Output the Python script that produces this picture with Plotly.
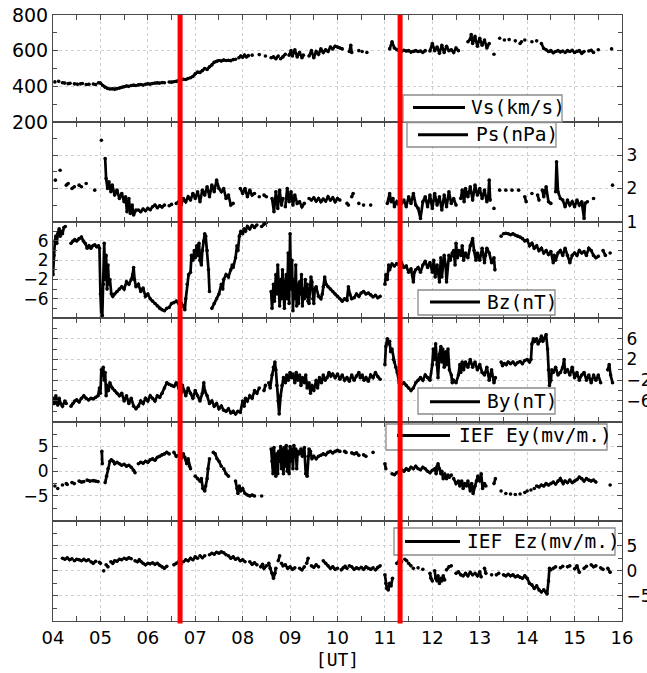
import plotly.graph_objects as go

# ---------------- data ----------------
HOURS = list(range(4, 17))
HOUR_LABELS = [f"{h:02d}" for h in HOURS]
EVENTS = [6.68, 11.32]  # red marker lines [UT hours]

# each series: (UT hour, value) points, None = data gap
VS = [
    (4.04, 425), None, (4.12, 428), None, (4.20, 420), (4.25, 418), None, (4.32, 415), (4.36, 417), None,
    (4.45, 414), (4.52, 412), None, (4.58, 414), (4.62, 416), None, (4.70, 410), (4.76, 412), None,
    (4.85, 413), (4.90, 410), None,
    (4.96, 420), (5.00, 418), (5.05, 405), (5.10, 395), (5.15, 388), (5.20, 385), (5.25, 386), (5.30, 383),
    (5.35, 387), None,
    (5.40, 390), (5.45, 395), (5.50, 398), (5.55, 402), (5.60, 400), None, (5.65, 405), (5.70, 407), (5.75, 405), None,
    (5.80, 408), (5.85, 410), (5.90, 407), None, (5.95, 412), (6.00, 414), (6.05, 412), (6.10, 416), None,
    (6.15, 418), (6.20, 420), (6.25, 418), None, (6.30, 421), (6.35, 420), None,
    (6.45, 424), (6.50, 423), (6.55, 426), (6.60, 428), (6.65, 432), (6.70, 436), (6.75, 440), (6.80, 438),
    (6.85, 444), None,
    (6.90, 448), (6.95, 455), (7.00, 470), (7.05, 480), (7.10, 478), (7.15, 488), (7.20, 500), (7.25, 495),
    (7.30, 510), (7.35, 520), (7.40, 535), (7.45, 540), (7.50, 545), (7.55, 542), (7.60, 548), (7.65, 545),
    (7.70, 546), (7.75, 544), None,
    (7.80, 550), (7.85, 552), None,
    (7.92, 560), (7.96, 570), (8.00, 563), (8.04, 575), (8.08, 565), (8.12, 572), None,
    (8.20, 575), None, (8.35, 578), None, (8.48, 570), None,
    (8.60, 560), (8.65, 565), (8.70, 555), (8.75, 570), None, (8.80, 555), (8.85, 565), (8.90, 580), None,
    (8.98, 575), (9.02, 600), (9.05, 570), (9.10, 605), (9.15, 565), (9.20, 590), (9.25, 560), (9.28, 575), None,
    (9.40, 570), (9.45, 600), (9.50, 560), (9.55, 595), (9.60, 580), (9.65, 610), (9.70, 590), (9.75, 605),
    (9.80, 595), (9.85, 620), (9.90, 610), (9.95, 625), (10.00, 620), (10.05, 615), (10.10, 610), None,
    (10.25, 595), (10.28, 630), (10.30, 590), None, (10.45, 600), None, (10.52, 595), None, (10.62, 590), None,
    (11.10, 610), (11.15, 650), (11.20, 615), (11.25, 605), (11.30, 600), (11.35, 595), (11.40, 602),
    (11.45, 598), (11.50, 600), (11.55, 592), (11.60, 596), (11.65, 600), (11.70, 595), (11.75, 598),
    (11.80, 590), (11.85, 600), None,
    (11.95, 598), (12.00, 640), (12.05, 600), (12.10, 620), (12.15, 585), (12.20, 630), (12.25, 590),
    (12.30, 625), (12.35, 600), (12.40, 605), (12.45, 590), (12.50, 615), (12.55, 600), None,
    (12.75, 650), (12.80, 665), (12.82, 690), (12.85, 640), (12.90, 680), (12.95, 625), (13.00, 670),
    (13.05, 630), (13.10, 660), (13.15, 615), (13.20, 640), None,
    (13.30, 580), None, (13.42, 670), None, (13.52, 660), None, (13.62, 662), None, (13.75, 655), None,
    (13.85, 640), (13.88, 650), None, (13.95, 660), None, (14.10, 650), None, (14.20, 655), None,
    (14.30, 640), (14.35, 612), (14.40, 605), (14.45, 595), (14.50, 600), (14.55, 588), (14.60, 595),
    (14.65, 600), (14.70, 593), (14.75, 598), None,
    (14.80, 590), (14.85, 600), (14.90, 595), (14.95, 602), (15.00, 590), (15.05, 597), (15.10, 600),
    (15.15, 585), (15.20, 595), None,
    (15.30, 598), (15.35, 602), (15.40, 590), None, (15.50, 605), None, (15.78, 610),
]

PS = [
    (4.05, 2.25), None, (4.15, 2.55), None, (4.28, 2.10), (4.32, 2.15), None, (4.40, 2.00), (4.45, 2.05), None,
    (4.55, 2.10), (4.60, 2.05), None, (4.70, 2.15), None, (4.88, 1.95), None, (5.02, 3.45), None,
    (5.10, 2.90), (5.12, 2.30), (5.15, 2.00), (5.18, 2.20), (5.22, 1.90), (5.25, 2.10), (5.30, 1.80),
    (5.35, 1.95), (5.40, 1.70), (5.45, 1.85), (5.50, 1.60), (5.53, 1.75), (5.56, 1.30), (5.60, 1.70),
    (5.63, 1.25), (5.67, 1.50), (5.70, 1.20), (5.75, 1.35), None,
    (5.80, 1.35), (5.85, 1.30), (5.90, 1.38), (5.95, 1.33), (6.00, 1.40), (6.05, 1.36), (6.10, 1.45),
    (6.15, 1.50), (6.20, 1.42), (6.25, 1.48), (6.30, 1.44), (6.35, 1.50), None,
    (6.45, 1.48), (6.50, 1.52), None,
    (6.60, 1.55), (6.65, 1.60), (6.70, 1.50), (6.75, 1.70), (6.80, 1.60), (6.85, 1.75), (6.90, 1.65),
    (6.95, 1.85), (7.00, 1.70), (7.05, 1.90), (7.10, 1.60), (7.15, 1.95), (7.20, 1.80), (7.25, 2.05),
    (7.30, 1.75), (7.35, 2.10), (7.40, 1.90), (7.45, 2.25), (7.50, 2.00), (7.55, 1.90), (7.60, 2.00),
    (7.65, 1.70), (7.70, 1.80), (7.75, 1.50), (7.80, 1.55), None,
    (7.95, 2.00), (8.00, 1.85), (8.05, 2.00), (8.10, 1.75), (8.15, 1.95), (8.20, 1.80), (8.25, 1.85), None,
    (8.35, 1.75), None, (8.45, 1.80), (8.50, 1.75), None,
    (8.62, 1.70), (8.66, 1.30), (8.70, 1.90), (8.74, 1.40), (8.78, 1.95), (8.82, 1.50), (8.85, 1.70), None,
    (8.90, 1.45), (8.94, 2.00), (8.98, 1.60), (9.02, 1.90), (9.06, 1.50), (9.10, 1.80), (9.15, 1.55),
    (9.20, 1.60), (9.25, 1.45), (9.30, 1.55), None,
    (9.40, 1.70), (9.45, 1.65), (9.50, 1.72), (9.55, 1.62), (9.60, 1.70), (9.65, 1.60), (9.70, 1.68),
    (9.75, 1.62), (9.80, 1.75), (9.85, 1.65), (9.90, 1.72), (9.95, 1.60), (10.00, 1.70), (10.05, 1.65), None,
    (10.20, 1.55), (10.23, 1.50), None, (10.30, 1.75), (10.33, 1.85), None, (10.45, 1.55), None,
    (10.55, 1.50), None, (10.70, 1.50), None,
    (11.05, 1.55), (11.10, 1.85), (11.13, 1.60), (11.17, 1.70), (11.20, 1.45), (11.25, 1.60), (11.30, 1.50),
    (11.35, 1.55), (11.40, 1.65), (11.45, 1.45), (11.50, 1.75), (11.55, 1.55), (11.60, 1.85), (11.65, 1.50),
    (11.70, 1.40), (11.75, 1.10), (11.80, 1.60), (11.85, 1.75), (11.90, 1.45), (11.95, 1.80), (12.00, 1.40),
    (12.05, 1.85), (12.10, 1.50), (12.15, 1.75), (12.20, 1.35), (12.25, 1.80), (12.30, 1.45), (12.35, 1.90),
    (12.40, 1.55), (12.45, 1.70), (12.50, 1.50), None,
    (12.60, 1.70), (12.63, 1.95), (12.67, 1.60), (12.70, 2.00), (12.75, 1.75), (12.80, 2.05), (12.85, 1.65),
    (12.90, 2.10), (12.95, 1.80), (13.00, 2.00), (13.05, 1.70), (13.10, 1.95), (13.15, 1.60), (13.18, 1.75),
    (13.20, 2.25), (13.22, 1.65), None,
    (13.30, 1.40), None, (13.42, 1.95), None, (13.55, 1.95), None, (13.68, 1.95), None, (13.82, 1.95), None,
    (13.95, 1.75), (13.98, 1.60), None, (14.10, 1.85), None, (14.22, 1.80), (14.25, 1.65), None,
    (14.32, 1.95), (14.35, 1.75), (14.40, 2.05), (14.45, 1.60), (14.50, 1.55), None,
    (14.60, 1.90), (14.62, 2.80), (14.65, 1.90), (14.70, 1.70), (14.75, 1.65), (14.80, 1.45), (14.85, 1.65),
    (14.90, 1.50), (14.95, 1.60), (15.00, 1.45), (15.05, 1.65), (15.10, 1.50), (15.15, 1.60), (15.20, 1.10),
    (15.22, 1.55), (15.27, 1.60), None,
    (15.40, 1.70), None, (15.80, 2.10),
]

BZ = [
    (4.00, -1.0), (4.02, 3.0), (4.04, 6.0), (4.06, 7.0), (4.08, 5.5), (4.10, 7.5), (4.13, 8.5), (4.15, 7.0),
    (4.18, 8.0), (4.20, 7.5), (4.23, 8.8), (4.26, 9.0), None,
    (4.38, 5.5), (4.42, 6.0), (4.46, 6.3), (4.50, 6.0), (4.55, 6.5), (4.60, 6.8), (4.64, 6.0), (4.68, 5.5),
    (4.72, 4.5), (4.76, 5.0), (4.80, 4.5), (4.84, 5.0), (4.88, 5.2), (4.92, 4.8), (4.96, 5.0), (4.98, 4.5),
    (5.00, -5.0), (5.02, -9.8), (5.04, -9.5), (5.06, -3.0), (5.08, 5.5), (5.10, -2.0), (5.12, 3.0),
    (5.14, -4.0), (5.16, 1.0), (5.18, -3.0), (5.20, -2.0), (5.23, -5.0), (5.26, -5.5), (5.30, -5.0),
    (5.35, -4.5), (5.40, -4.0), (5.45, -3.5), (5.50, -4.0), (5.55, -2.5), (5.60, -3.0), (5.65, -2.0),
    (5.68, -1.0), (5.70, 0.5), (5.72, -2.0), (5.75, -3.5), (5.80, -3.0), (5.85, -4.5), (5.90, -3.8),
    (5.95, -5.5), (6.00, -5.0), (6.05, -6.0), (6.10, -6.5), (6.15, -7.0), (6.20, -7.5), (6.25, -8.0),
    (6.30, -8.3), (6.35, -8.5), (6.40, -8.0), None,
    (6.45, -7.8), (6.50, -7.0), (6.55, -6.8), (6.60, -6.5), (6.65, -7.0), (6.70, -6.8), (6.75, -7.5),
    (6.78, -8.3), (6.80, -6.0), (6.83, -3.0), (6.86, -1.0), (6.90, -0.5), (6.92, 3.0), (6.95, 2.0),
    (6.98, 4.0), (7.00, 2.5), (7.03, 5.0), (7.05, 3.0), (7.08, 5.5), (7.10, 2.0), (7.13, 1.0), (7.15, 4.0),
    (7.18, 6.0), (7.20, 7.5), (7.22, 7.0), (7.25, 4.0), (7.28, 0.0), (7.30, -4.5), None,
    (7.35, -8.0), (7.40, -7.0), (7.45, -6.0), (7.50, -5.0), (7.55, -3.0), (7.58, -4.0), (7.60, -2.0),
    (7.65, -1.0), (7.70, -1.5), (7.75, 0.0), (7.78, 1.0), (7.80, 0.5), (7.85, 2.5), (7.88, 5.0), (7.90, 4.0),
    (7.93, 7.0), (7.96, 8.0), (8.00, 7.5), (8.03, 8.5), (8.06, 8.0), (8.10, 9.0), (8.15, 8.5), (8.20, 9.2),
    (8.25, 8.8), (8.30, 9.3), None,
    (8.40, 9.0), (8.45, 9.5), (8.50, 9.8), None,
    (8.60, -4.5), (8.62, -8.0), (8.65, -3.0), (8.67, -6.5), (8.70, -1.0), (8.72, -5.0), (8.74, 1.0),
    (8.76, -4.0), (8.78, -7.5), (8.80, -2.0), (8.82, -6.0), (8.84, 0.0), (8.86, -5.5), (8.88, -8.0),
    (8.90, -3.0), (8.92, -1.0), (8.94, -6.0), (8.96, 3.5), (8.98, -7.0), (9.00, 7.5), (9.02, -4.0),
    (9.04, 2.0), (9.06, -8.5), (9.08, -2.0), (9.10, -6.0), (9.12, 1.0), (9.14, -7.5), (9.16, -3.0),
    (9.18, -7.0), (9.20, -2.5), (9.22, -5.0), (9.24, -1.0), (9.26, -7.5), (9.28, -4.0), (9.30, -6.0),
    (9.32, -2.0), (9.34, -5.5), (9.36, -3.0), (9.38, -6.5), (9.40, -7.0), (9.42, -4.0), (9.44, -1.5),
    (9.46, -2.5), (9.48, -6.0), (9.50, -7.0), (9.52, -4.0), (9.55, -3.5), (9.60, -5.5), (9.65, -6.0),
    (9.68, -5.0), (9.70, -3.5), (9.73, -1.5), (9.76, -3.0), (9.80, -3.5), (9.85, -4.0), (9.90, -4.5),
    (9.95, -5.0), (10.00, -5.5), (10.05, -6.0), (10.10, -6.5), (10.15, -6.0), (10.20, -6.3), (10.23, -3.5),
    (10.26, -5.0), (10.30, -6.0), (10.35, -5.8), (10.40, -5.0), (10.45, -5.5), (10.50, -4.8), (10.55, -4.5),
    (10.60, -5.0), (10.65, -4.8), (10.70, -5.2), (10.75, -5.6), (10.80, -5.3), (10.85, -5.8), (10.90, -5.5),
    None,
    (11.00, -3.0), (11.02, -1.0), (11.05, -2.0), (11.08, 1.0), (11.10, 0.0), (11.15, 1.2), (11.20, 0.8),
    (11.25, 1.3), (11.30, 1.0), (11.35, 1.5), (11.40, 0.5), (11.45, 0.8), (11.50, -0.5), (11.55, 0.2),
    (11.60, -2.5), (11.62, -0.5), (11.65, 0.0), (11.70, 0.5), (11.75, -0.5), (11.80, 1.0), (11.85, 1.8),
    (11.90, 0.5), (11.95, 1.5), (12.00, -0.5), (12.03, 2.0), (12.06, -1.5), (12.10, 1.0), (12.15, -2.5),
    (12.18, 2.5), (12.20, -1.5), (12.25, 3.0), (12.28, 1.0), (12.30, -2.5), (12.35, 3.0), (12.38, 2.0),
    (12.42, 3.5), (12.45, 4.0), (12.48, 1.0), (12.50, 5.5), (12.53, 2.5), (12.56, 4.0), (12.60, 3.0),
    (12.63, 5.0), (12.66, 2.0), (12.70, 3.5), (12.75, 2.5), (12.80, 5.0), (12.85, 6.5), (12.88, 4.0),
    (12.92, 2.0), (12.95, 3.5), (13.00, 2.0), (13.05, 4.5), (13.10, 1.5), (13.12, 3.0), (13.15, 4.5),
    (13.20, 3.5), (13.25, 1.5), (13.30, 2.5), (13.32, 0.0), None,
    (13.45, 7.0), None,
    (13.50, 7.5), (13.55, 7.6), (13.60, 7.5), (13.65, 7.3), (13.70, 7.5), (13.75, 7.2), (13.80, 7.0),
    (13.85, 6.8), (13.90, 6.5), (13.95, 6.0), (14.00, 6.2), (14.05, 5.0), (14.10, 5.5), (14.15, 4.5),
    (14.20, 5.0), (14.25, 4.0), (14.30, 4.5), (14.35, 3.5), (14.40, 4.0), (14.45, 3.2), (14.50, 3.8),
    (14.55, 1.5), (14.57, 3.0), (14.60, 2.0), (14.65, 3.5), (14.70, 4.0), (14.75, 3.0), (14.80, 4.5),
    (14.85, 3.0), (14.90, 1.5), (14.95, 3.0), (15.00, 3.5), (15.05, 3.0), (15.10, 4.0), (15.15, 3.5),
    (15.20, 3.8), (15.25, 3.0), (15.30, 4.5), (15.35, 4.0), (15.40, 3.0), (15.45, 2.5), (15.50, 2.8), None,
    (15.60, 4.0), (15.65, 3.0), None, (15.75, 3.5),
]

BY = [
    (4.00, -5.5), (4.03, -6.5), (4.06, -5.0), (4.10, -6.8), (4.13, -5.5), (4.16, -6.5), (4.20, -7.0),
    (4.25, -6.0), (4.28, -6.5), None,
    (4.38, -7.0), (4.42, -6.5), (4.46, -6.0), (4.50, -5.8), (4.55, -6.2), (4.60, -5.5), (4.65, -5.0),
    (4.70, -5.5), (4.75, -5.8), (4.80, -5.5), (4.85, -5.6), (4.90, -5.3), (4.95, -5.0), (4.98, -3.5),
    (5.00, -4.5), (5.02, 0.0), (5.04, -1.0), (5.06, 0.5), (5.08, -2.0), (5.10, -0.5), (5.12, -5.0),
    (5.14, -3.0), (5.17, -4.0), (5.20, -2.5), (5.25, -3.5), (5.30, -4.0), (5.35, -4.5), (5.40, -5.0),
    (5.45, -4.5), (5.50, -6.0), (5.55, -5.0), (5.60, -6.5), (5.65, -5.5), (5.70, -7.0), (5.75, -7.5),
    (5.80, -7.0), (5.85, -6.0), (5.90, -6.5), (5.95, -5.5), (6.00, -6.0), (6.05, -5.0), (6.10, -5.5),
    (6.15, -6.0), (6.20, -5.0), (6.25, -5.3), (6.30, -4.5), (6.35, -3.5), (6.40, -2.5), (6.45, -2.8),
    (6.50, -3.0), (6.55, -3.2), (6.60, -2.5), (6.65, -3.5), (6.70, -4.5), (6.73, -3.0), (6.76, -4.0),
    (6.80, -5.0), (6.85, -3.5), (6.90, -4.5), (6.95, -5.5), (7.00, -4.0), (7.05, -5.0), (7.10, -6.0),
    (7.15, -4.5), (7.18, -2.5), (7.20, -4.0), (7.25, -5.0), (7.30, -6.5), (7.35, -6.0), (7.40, -7.0),
    (7.45, -6.5), (7.50, -7.5), (7.55, -7.0), (7.60, -7.8), (7.65, -8.0), (7.70, -7.5), (7.75, -8.3),
    (7.80, -8.0), (7.85, -8.5), (7.90, -8.0), (7.95, -8.2), (8.00, -6.0), (8.03, -7.0), (8.06, -5.5),
    (8.10, -6.0), (8.15, -5.0), (8.20, -5.5), (8.25, -4.0), (8.30, -4.5), (8.35, -3.5), None,
    (8.45, -4.0), (8.48, -3.0), None,
    (8.55, -2.5), (8.58, -3.5), (8.62, -1.0), (8.65, 0.5), (8.68, 1.5), (8.70, 0.0), (8.72, -3.0),
    (8.75, -6.0), (8.77, -8.5), (8.80, -5.0), (8.83, -3.0), (8.86, -1.5), (8.90, -2.5), (8.93, -1.0),
    (8.96, -2.0), (9.00, -0.5), (9.03, -1.5), (9.06, -0.8), (9.10, -2.5), (9.13, -0.5), (9.16, -2.0),
    (9.20, -1.0), (9.23, -3.0), (9.26, -1.5), (9.30, -2.5), (9.33, -1.0), (9.36, -3.5), (9.40, -2.5),
    (9.43, -4.5), (9.46, -3.0), (9.50, -4.0), (9.55, -2.0), (9.58, -3.5), (9.62, -1.5), (9.66, -2.5),
    (9.70, -1.0), (9.74, -2.0), (9.78, -1.5), (9.82, -0.5), (9.86, -1.2), (9.90, -0.8), (9.95, -1.5),
    (10.00, -0.8), (10.05, -1.8), (10.10, -1.0), (10.15, -2.0), (10.20, -1.5), (10.25, -2.2), (10.30, -1.0),
    (10.35, -2.0), (10.40, -1.2), (10.45, -0.5), (10.48, -1.5), (10.52, -1.0), (10.56, -2.0), (10.60, -1.5),
    (10.65, -2.2), (10.70, -1.0), (10.75, -1.5), (10.80, -0.5), (10.85, -1.3), (10.90, -1.8), None,
    (11.00, 1.0), (11.02, 4.5), (11.05, 6.0), (11.08, 5.0), (11.10, 5.5), (11.12, 3.5), (11.15, 4.0),
    (11.18, 2.0), (11.20, 1.5), (11.23, 0.5), (11.26, -0.5), (11.30, -2.5), (11.35, -2.8), (11.40, -2.5),
    (11.45, -3.0), (11.50, -3.5), (11.55, -4.0), (11.60, -3.5), (11.65, -2.5), (11.70, -2.0), (11.75, -1.5),
    (11.80, -2.0), (11.85, -1.0), (11.90, -1.5), (11.95, -2.0), (12.00, 1.0), (12.02, 4.0), (12.05, 2.0),
    (12.07, 5.0), (12.10, 1.0), (12.12, -1.5), (12.15, 3.0), (12.18, 4.5), (12.20, 1.5), (12.22, 4.0),
    (12.25, 0.5), (12.28, 3.5), (12.30, 1.0), (12.33, 4.0), (12.36, 0.0), (12.40, -1.0), (12.42, -2.5),
    (12.45, -2.0), (12.50, -2.5), (12.55, -1.0), (12.58, 1.0), (12.60, -0.5), (12.63, 1.5), (12.66, 0.0),
    (12.70, 1.5), (12.75, 0.5), (12.80, 2.0), (12.85, 0.5), (12.90, 1.5), (12.95, 0.0), (13.00, 1.0),
    (13.05, -0.5), (13.10, -1.0), (13.15, 0.5), (13.20, -2.0), (13.25, 0.0), (13.30, -2.5), (13.33, -1.5),
    None,
    (13.45, 1.5), (13.48, 0.8), None,
    (13.52, 1.2), (13.56, 1.0), (13.60, 1.5), (13.65, 1.2), (13.70, 1.5), (13.75, 1.0), (13.80, 1.4),
    (13.85, 1.6), (13.90, 1.2), (13.95, 1.8), (14.00, 2.0), (14.05, 1.5), (14.08, 2.0), (14.10, 5.0),
    (14.13, 6.0), (14.16, 5.5), (14.20, 6.0), (14.23, 5.0), (14.26, 5.5), (14.30, 6.5), (14.33, 5.5),
    (14.36, 6.0), (14.40, 6.8), (14.43, 4.0), (14.45, 0.0), (14.47, -3.0), (14.50, -2.0), (14.52, 0.0),
    (14.55, -0.5), (14.60, 0.5), (14.65, -1.0), (14.70, -0.5), (14.75, 0.5), (14.78, 2.0), (14.80, -0.5),
    (14.85, 0.0), (14.90, -1.0), (14.95, 0.5), (15.00, -1.5), (15.05, -0.5), (15.10, -2.0), (15.15, -1.0),
    (15.20, -0.5), (15.25, -2.0), (15.30, -1.0), (15.35, -2.5), (15.40, -1.0), (15.45, -2.0), (15.50, -1.0),
    (15.55, -2.5), None,
    (15.70, 0.0), (15.73, 1.0), (15.76, -1.0), (15.80, -2.5),
]

EY = [
    (4.04, -3.0), None, (4.10, -3.5), None, (4.20, -2.8), None, (4.28, -2.5), (4.30, -2.7), None,
    (4.40, -2.3), (4.45, -2.5), None, (4.55, -2.0), (4.60, -2.2), (4.65, -2.1), None,
    (4.72, -1.8), (4.78, -2.0), (4.85, -1.9), (4.90, -2.0), (4.95, -2.1), None,
    (5.03, 4.0), (5.04, 1.5), None,
    (5.10, -2.3), (5.13, -1.0), (5.16, 0.5), (5.20, 2.0), (5.23, 2.3), (5.27, 2.0), (5.30, 1.5), (5.35, 1.8),
    (5.40, 1.5), (5.45, 1.2), (5.50, 1.4), (5.55, 1.0), (5.60, 1.2), (5.65, 0.8), (5.70, 0.2), (5.73, -0.3),
    None,
    (5.80, 1.5), (5.85, 1.8), (5.90, 1.6), (5.95, 2.0), (6.00, 1.8), (6.05, 2.3), (6.10, 2.5), (6.15, 2.2),
    (6.20, 2.8), (6.25, 3.0), (6.30, 3.3), (6.35, 3.5), (6.40, 3.8), (6.45, 3.5), None,
    (6.55, 3.8), (6.60, 3.0), (6.65, 3.2), (6.70, 2.5), (6.75, 3.5), (6.78, 2.8), (6.82, 1.5), (6.85, 2.5),
    (6.88, 1.0), (6.90, 0.5), None,
    (7.00, -1.0), (7.05, -1.5), (7.10, -2.0), (7.13, -1.5), (7.16, -3.5), (7.20, -4.0), (7.22, -3.0),
    (7.25, -1.5), (7.27, 0.5), (7.30, 2.5), None,
    (7.38, 3.8), (7.42, 3.5), (7.46, 2.5), (7.50, 2.0), (7.55, 1.0), None,
    (7.60, 0.5), (7.65, -0.5), (7.70, -1.0), None,
    (7.85, -2.0), (7.88, -3.5), (7.90, -4.5), (7.93, -3.0), (7.96, -4.0), (8.00, -3.5), (8.05, -4.5),
    (8.10, -4.8), (8.15, -5.0), (8.20, -4.8), (8.25, -5.0), None,
    (8.40, -5.0), None,
    (8.60, 4.5), (8.62, 2.0), (8.64, -0.5), (8.66, 4.8), (8.68, 1.0), (8.70, -1.0), (8.72, 3.5), (8.74, -0.5),
    (8.76, 4.0), (8.78, 2.0), (8.80, 5.0), (8.82, 0.5), (8.84, 4.5), (8.86, -0.5), (8.88, 4.8), (8.90, 1.0),
    (8.92, 5.2), (8.94, 0.0), (8.96, 4.0), (8.98, -0.5), (9.00, 5.0), (9.02, 2.0), (9.04, 4.5), (9.06, 0.5),
    (9.08, 5.2), (9.10, 3.0), (9.12, 4.5), (9.14, 0.5), (9.16, 4.0), (9.20, 3.5), (9.23, 4.5), (9.26, 3.0),
    (9.30, 4.8), (9.33, -0.5), (9.36, -1.0), (9.38, 3.0), (9.40, 4.5), (9.43, 4.0), (9.46, 2.5), (9.50, 3.0),
    (9.55, 2.5), (9.60, 3.0), (9.65, 3.2), (9.70, 3.5), (9.75, 3.3), (9.80, 3.8), (9.85, 4.0), (9.90, 3.7),
    (9.95, 4.0), (10.00, 4.2), (10.05, 4.0), None,
    (10.15, 4.0), (10.18, 3.8), None, (10.30, 3.7), (10.35, 3.5), (10.40, 3.7), (10.45, 3.2), None,
    (10.55, 3.3), (10.60, 3.0), None, (10.75, 3.8), None,
    (11.00, 1.5), (11.02, 0.5), None,
    (11.15, -0.5), (11.20, -0.7), (11.25, -0.3), (11.30, 0.0), (11.35, 0.3), (11.40, 0.0), (11.45, 0.5),
    (11.50, 0.2), (11.55, 0.8), (11.60, 0.5), (11.65, 1.0), (11.70, 0.5), (11.75, 0.3), (11.80, 0.8),
    (11.85, 0.5), (11.90, 0.0), (11.95, -0.3), (12.00, 0.2), (12.05, 0.5), (12.08, -0.5), (12.10, 1.0),
    (12.12, 1.5), (12.15, 0.5), (12.18, -0.5), (12.20, 0.0), (12.23, -1.5), (12.26, -0.5), (12.30, -1.5),
    (12.33, -0.8), (12.36, -1.2), (12.40, -0.8), None,
    (12.45, -1.5), (12.50, -2.5), (12.55, -2.0), (12.58, -3.0), (12.62, -2.0), (12.65, -3.5), (12.68, -2.5),
    (12.72, -3.0), (12.75, -2.0), (12.80, -4.0), (12.83, -2.5), (12.86, -4.5), (12.90, -3.0), (12.93, -2.0),
    (12.96, -1.0), (13.00, -2.0), (13.03, -0.5), (13.06, -3.5), (13.10, -2.5), (13.13, -3.0), None,
    (13.30, -2.5), (13.33, -1.5), None,
    (13.45, -4.0), None, (13.55, -4.5), None, (13.65, -4.6), None, (13.75, -4.7), None, (13.85, -4.6), None,
    (13.95, -4.3), None, (14.00, -4.0), None, (14.08, -3.8), None, (14.15, -3.5), None,
    (14.20, -3.0), (14.25, -3.2), (14.30, -2.8), (14.35, -3.0), (14.40, -2.5), (14.45, -2.8), (14.50, -2.5),
    (14.55, -2.2), (14.60, -2.6), (14.65, -2.0), (14.70, -1.5), (14.73, -2.0), (14.76, -2.5), (14.80, -2.0),
    (14.85, -2.3), (14.90, -1.8), (14.95, -2.3), (15.00, -2.0), (15.05, -1.7), (15.10, -1.2), (15.15, -1.5),
    (15.20, -2.0), (15.25, -1.5), (15.30, -1.8), (15.35, -2.0), (15.40, -1.8), (15.45, -2.2), None,
    (15.75, -2.8),
]

EZ = [
    (4.20, 2.5), (4.25, 2.3), (4.30, 2.6), (4.35, 2.2), (4.40, 2.4), None,
    (4.45, 2.0), (4.50, 2.3), (4.55, 2.2), (4.60, 2.0), (4.65, 2.3), (4.70, 2.0), (4.75, 2.2), None,
    (4.80, 1.8), (4.85, 1.5), (4.90, 1.9), None, (4.98, 1.7), (5.00, 1.5), None, (5.07, 0.0), None,
    (5.12, 1.2), (5.16, 0.8), None,
    (5.22, 1.8), (5.26, 1.5), (5.30, 2.0), (5.35, 1.9), (5.40, 2.3), (5.45, 2.2), None,
    (5.50, 2.5), (5.55, 2.3), (5.60, 2.6), (5.65, 2.4), None,
    (5.73, 2.0), (5.78, 1.8), (5.82, 2.2), (5.86, 1.8), None,
    (5.90, 1.5), (5.95, 1.2), (6.00, 1.5), (6.05, 1.4), None,
    (6.10, 1.6), (6.15, 1.3), (6.20, 1.5), (6.25, 1.1), (6.30, 0.8), (6.35, 0.5), (6.40, 0.9), None,
    (6.55, 1.2), (6.60, 1.5), (6.65, 1.8), (6.70, 1.3), None,
    (6.75, 1.8), (6.80, 2.2), (6.85, 2.0), (6.90, 2.5), (6.95, 2.2), (7.00, 2.8), (7.05, 2.5), None,
    (7.10, 3.0), (7.15, 2.6), (7.20, 3.0), None,
    (7.30, 3.2), (7.35, 3.5), (7.40, 3.3), (7.45, 3.7), (7.50, 3.5), (7.55, 3.8), (7.60, 3.6), (7.65, 3.2),
    None,
    (7.70, 3.0), (7.75, 2.5), (7.80, 2.8), (7.85, 2.3), (7.90, 2.5), (7.95, 2.0), (8.00, 2.2), (8.05, 1.8),
    None,
    (8.15, 1.8), (8.20, 1.3), (8.25, 1.6), (8.30, 1.2), None,
    (8.38, 0.8), (8.42, 1.3), (8.45, 0.5), (8.50, 1.0), None,
    (8.55, 1.5), (8.58, 0.5), (8.62, -0.5), (8.65, -1.5), (8.68, -0.5), (8.70, 0.5), None,
    (8.75, 2.0), (8.78, 3.0), None,
    (8.82, 1.5), (8.85, 1.0), (8.90, 1.2), (8.95, 0.5), (9.00, 0.8), (9.05, 0.3), (9.10, 0.6), None,
    (9.20, 0.5), (9.25, 0.2), (9.30, 0.8), None, (9.35, 1.5), (9.38, 2.5), None,
    (9.45, 1.0), (9.50, 0.7), (9.55, 1.2), (9.60, 0.8), None,
    (9.70, 2.0), (9.75, 1.5), (9.80, 1.0), (9.85, 0.5), (9.90, 0.8), (9.95, 0.3), (10.00, 0.5), None,
    (10.08, 0.2), (10.12, 0.6), (10.16, 0.9), (10.20, 0.5), None,
    (10.25, 1.0), (10.30, 0.8), (10.35, 0.3), (10.40, 0.6), (10.45, 0.4), None,
    (10.50, 0.7), (10.55, 0.3), (10.60, 0.8), (10.65, 0.5), (10.70, 0.3), (10.75, 0.6), None,
    (10.80, 0.2), (10.85, 0.7), (10.90, 1.0), None,
    (11.00, -0.8), (11.02, -2.5), (11.04, -3.5), (11.07, -3.8), (11.10, -2.5), (11.13, -3.0), (11.16, -1.5),
    None,
    (11.25, 1.5), (11.30, 2.0), (11.35, 1.8), None, (11.42, 2.3), (11.46, 2.0), None,
    (11.50, 1.5), (11.55, 1.0), None, (11.60, 0.5), None, (11.70, 0.6), None, (11.80, 0.3), None,
    (11.95, -0.5), (11.97, -1.5), (12.00, -2.0), None,
    (12.05, 0.0), (12.07, -1.5), (12.10, -2.0), (12.12, -1.0), (12.15, -2.5), (12.18, -1.5), (12.20, -2.0),
    (12.23, -1.0), (12.26, -1.8), None,
    (12.30, 0.2), (12.35, 0.8), (12.40, 1.0), None,
    (12.50, -0.5), (12.55, -0.2), (12.60, -0.8), (12.65, -1.0), (12.70, -0.5), (12.75, -1.0), (12.80, -0.3),
    (12.85, -0.8), None,
    (12.90, -0.5), (12.95, -1.0), (13.00, -0.2), (13.03, -1.2), None,
    (13.10, 0.5), (13.13, -0.5), None, (13.25, -0.8), None, (13.35, -0.8), (13.40, -0.5), None,
    (13.50, -0.8), (13.55, -1.0), (13.60, -0.7), (13.65, -1.0), (13.70, -0.8), (13.75, -1.2), (13.80, -1.0),
    (13.85, -1.3), (13.90, -1.5), (13.95, -1.0), (14.00, -1.5), (14.05, -2.5), (14.10, -2.8), (14.15, -3.5),
    (14.20, -3.0), (14.25, -3.8), (14.30, -4.2), (14.35, -3.8), (14.40, -4.3), (14.42, -4.6), (14.45, -2.0),
    (14.47, 0.5), (14.50, 0.2), None,
    (14.55, 0.5), (14.60, 0.8), None, (14.70, 0.6), (14.75, 0.9), None, (14.85, 0.8), (14.90, 1.0), None,
    (15.00, 0.4), (15.05, 1.0), (15.10, -0.3), None, (15.20, 0.5), (15.25, 0.9), None,
    (15.35, 1.2), (15.40, 0.8), (15.45, 1.0), None, (15.55, 0.6), (15.60, 0.3), None,
    (15.70, 0.5), (15.75, -0.3),
]

LABELS = ["Vs(km/s)", "Ps(nPa)", "Bz(nT)", "By(nT)", "IEF Ey(mv/m.)", "IEF Ez(mv/m.)"]
SERIES = [VS, PS, BZ, BY, EY, EZ]
Y_RANGES = [[200, 800], [1, 4], [-10, 10], [-10, 10], [-10, 10], [-10, 10]]
Y_TICKS = [[200, 400, 600, 800], [1, 2, 3], [-6, -2, 2, 6], [-6, -2, 2, 6], [-5, 0, 5], [-5, 0, 5]]
Y_MINOR = [100, 0.5, 2, 2, 2.5, 2.5]
Y_SIDES = ["left", "right", "left", "right", "left", "right"]

# ---------------- layout geometry (pixels) ----------------
W, H = 647, 673
ML, MR, MT, MB = 53, 25, 15, 52
PW, PH = W - ML - MR, H - MT - MB
BOUNDS_PX = [15, 122, 221.7, 318, 421.7, 520.7, 621]


def py(p):
    return (H - MB - p) / PH


def px(p):
    return (p - ML) / PW


# legend key boxes (x0, x1, y0, y1), key line (x0, x1, y) and label start x, in px
KEY_BOX = [(403, 562, 95, 122), (407, 556, 122.5, 147), (418, 555, 290, 315),
           (418, 555, 388, 414), (386, 607, 424, 450), (394, 615, 528, 555)]
KEY_LINE = [(413, 465, 107.5), (418, 468, 134.7), (430, 480, 302), (430, 480, 401.7),
            (397, 450, 435.5), (405, 460, 541.5)]
KEY_TEXT_X = [469.5, 474.5, 485.5, 485.5, 457.5, 465.5]


def split(pts):
    t, v = [], []
    for p in pts:
        if p is None:
            t.append(None)
            v.append(None)
        else:
            t.append(p[0])
            v.append(p[1])
    return t, v


def fmt(v):
    return f"{v:g}".replace("-", "\u2212")


fig = go.Figure()
layout = dict(
    width=W, height=H, margin=dict(l=ML, r=MR, t=MT, b=MB, autoexpand=False),
    paper_bgcolor="white", plot_bgcolor="white", showlegend=False,
    font=dict(family="DejaVu Sans", color="black"),
)

AXC = "#4a4a4a"
GRIDC = "#cfcfcf"
annotations = []
shapes = []

for i in range(6):
    n = i + 1
    sx = "" if n == 1 else str(n)
    t, v = split(SERIES[i])
    fig.add_trace(go.Scatter(
        x=t, y=v, mode="lines", name=LABELS[i], connectgaps=False,
        line=dict(color="black", width=2.7), xaxis="x" + sx, yaxis="y" + sx,
        hoverinfo="skip",
    ))
    fig.add_trace(go.Scatter(
        x=t, y=v, mode="markers", name=LABELS[i],
        marker=dict(color="black", size=3.6), xaxis="x" + sx, yaxis="y" + sx, hoverinfo="skip",
    ))

    dom = [py(BOUNDS_PX[i + 1]), py(BOUNDS_PX[i])]
    xa = dict(
        domain=[0, 1], range=[4, 16], anchor="y" + sx,
        tickmode="array", tickvals=HOURS, ticktext=HOUR_LABELS, showticklabels=(n == 6),
        ticks="inside", ticklen=5, tickcolor=AXC, mirror="ticks",
        showline=True, linecolor=AXC, linewidth=1,
        showgrid=True, gridcolor=GRIDC, griddash="dot", gridwidth=1, zeroline=False,
        minor=dict(tickmode="linear", tick0=4, dtick=0.5, ticks="inside", ticklen=5, tickcolor=AXC,
                   showgrid=False),
        tickfont=dict(family="DejaVu Sans", size=18, color="black"),
    )
    if n > 1:
        xa["matches"] = "x"
    if n == 6:
        xa["title"] = dict(text="[UT]", font=dict(family="DejaVu Sans Mono", size=18, color="black"),
                           standoff=6)
    ya = dict(
        domain=dom, range=Y_RANGES[i], anchor="x" + sx, side=Y_SIDES[i],
        tickmode="array", tickvals=Y_TICKS[i], ticktext=[fmt(k) for k in Y_TICKS[i]],
        ticks="inside", ticklen=5, tickcolor=AXC, mirror="ticks",
        showline=True, linecolor=AXC, linewidth=1,
        showgrid=True, gridcolor=GRIDC, griddash="dot", gridwidth=1, zeroline=False,
        minor=dict(tickmode="linear", tick0=0, dtick=Y_MINOR[i], ticks="inside", ticklen=4,
                   tickcolor=AXC, showgrid=False),
        tickfont=dict(family="DejaVu Sans", size=19 if n == 1 else 17, color="black"),
    )
    layout["xaxis" + sx] = xa
    layout["yaxis" + sx] = ya

    # legend key: framed box, line sample and label
    x0, x1, y0, y1 = KEY_BOX[i]
    shapes.append(dict(type="rect", xref="paper", yref="paper", x0=px(x0), x1=px(x1),
                       y0=py(y1), y1=py(y0), fillcolor="white",
                       line=dict(color="#8a8a8a", width=1.3), layer="above"))
    lx0, lx1, ly = KEY_LINE[i]
    shapes.append(dict(type="line", xref="paper", yref="paper", x0=px(lx0), x1=px(lx1),
                       y0=py(ly), y1=py(ly), line=dict(color="black", width=3), layer="above"))
    annotations.append(dict(
        text=LABELS[i], xref="paper", yref="paper", x=px(KEY_TEXT_X[i]), y=py(ly),
        xanchor="left", yanchor="middle", showarrow=False, borderpad=0,
        font=dict(family="DejaVu Sans Mono", size=19.5, color="black"),
    ))

for ev in EVENTS:
    shapes.append(dict(type="line", xref="x", yref="paper", x0=ev, x1=ev, y0=-0.004, y1=1.0,
                       line=dict(color="#ff0000", width=5), layer="above"))
layout["shapes"] = shapes
layout["annotations"] = annotations

fig.update_layout(**layout)
fig.write_html("out.html")
